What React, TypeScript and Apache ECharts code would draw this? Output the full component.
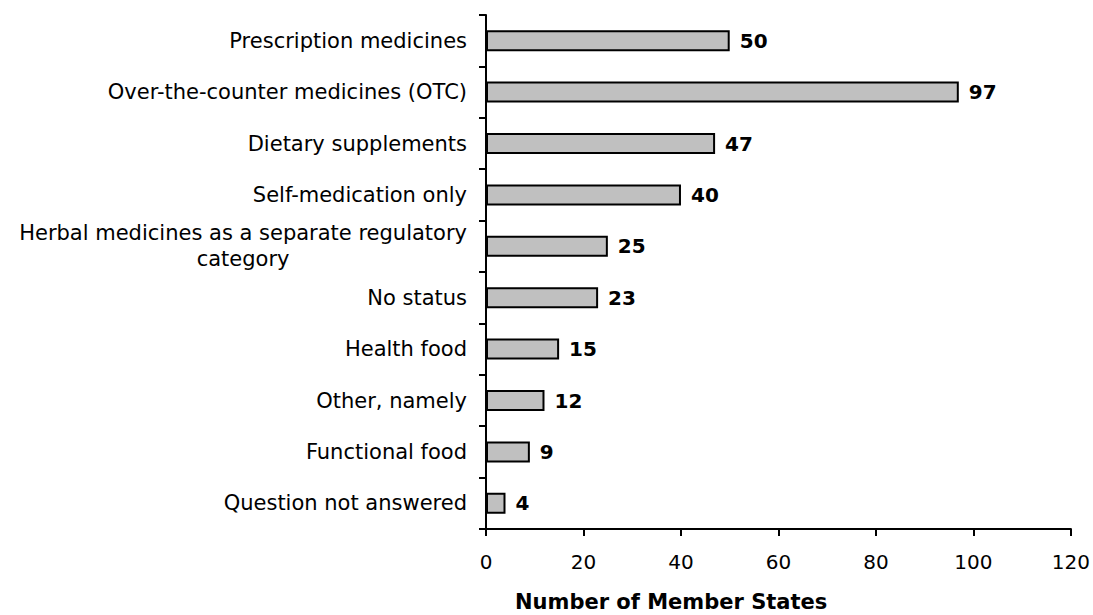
import React, { useEffect, useRef } from "react";
import * as echarts from "echarts";

const categories = [
  "Prescription medicines",
  "Over-the-counter medicines (OTC)",
  "Dietary supplements",
  "Self-medication only",
  "Herbal medicines as a separate regulatory category",
  "No status",
  "Health food",
  "Other, namely",
  "Functional food",
  "Question not answered",
];
const values = [50, 97, 47, 40, 25, 23, 15, 12, 9, 4];
const xTicks = [0, 20, 40, 60, 80, 100, 120];
const axisTitle = "Number of Member States";

const FONT = "DejaVu Sans, Verdana, sans-serif";

export default function App() {
  const ref = useRef<HTMLDivElement>(null);
  useEffect(() => {
    if (!ref.current) return;
    const chart = echarts.init(ref.current, null, { renderer: "svg" });
    const cats = [...categories].reverse();
    const vals = [...values].reverse();
    chart.setOption({
      animation: false,
      textStyle: { fontFamily: FONT },
      grid: { left: 486, right: 22, top: 15, bottom: 86, containLabel: false },
      xAxis: {
        type: "value",
        min: xTicks[0],
        max: xTicks[xTicks.length - 1],
        interval: 20,
        splitLine: { show: false },
        axisLine: { show: true, lineStyle: { color: "#000", width: 2 } },
        axisTick: { show: true, length: 7, lineStyle: { color: "#000", width: 2 } },
        axisLabel: { color: "#000", fontSize: 20, fontFamily: FONT, margin: 23 },
      },
      yAxis: {
        type: "category",
        data: cats,
        axisLine: { show: true, lineStyle: { color: "#000", width: 2 } },
        axisTick: { show: true, length: 7, lineStyle: { color: "#000", width: 2 } },
        axisLabel: {
          color: "#000",
          fontSize: 21,
          fontFamily: FONT,
          margin: 19,
          lineHeight: 26,
          formatter: (v: string) => {
            if (v.length > 40) {
              const idx = v.lastIndexOf(" ", 41);
              return "{c|" + v.slice(0, idx) + "}\n{c|" + v.slice(idx + 1) + "}";
            }
            return v;
          },
          rich: {
            c: { align: "center", fontSize: 21, fontFamily: FONT, color: "#000", lineHeight: 26 },
          },
        },
      },
      series: [
        {
          type: "bar",
          data: vals,
          barWidth: 21,
          itemStyle: { color: "#c0c0c0", borderColor: "#000", borderWidth: 2 },
          label: {
            show: true,
            position: "right",
            distance: 10,
            color: "#000",
            fontWeight: "bold",
            fontSize: 20,
            fontFamily: FONT,
          },
        },
      ],
      graphic: [
        {
          type: "text",
          left: 515,
          top: 591,
          style: {
            text: axisTitle,
            font: "bold 21px " + FONT,
            fill: "#000",
          },
        },
      ],
    });
    return () => chart.dispose();
  }, []);
  return <div ref={ref} style={{ width: 1093, height: 615, position: "absolute", left: 0, top: 0 }} />;
}
